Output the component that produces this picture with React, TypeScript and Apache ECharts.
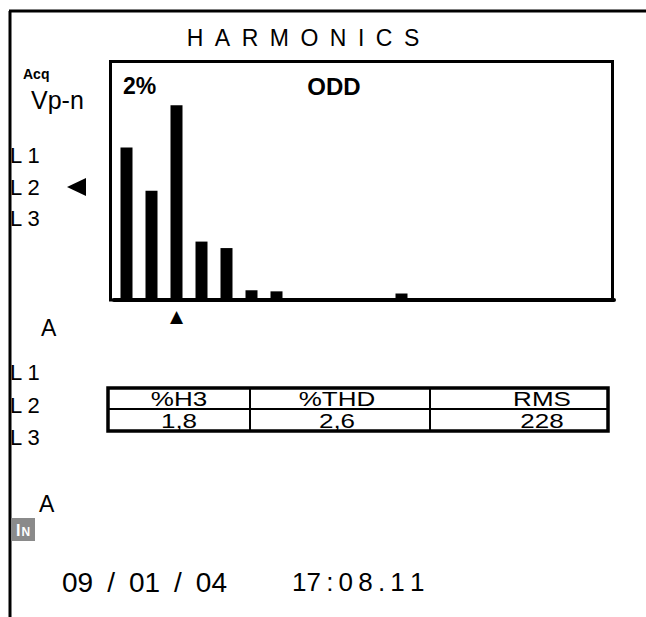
import React, { useEffect, useRef } from 'react';
import * as echarts from 'echarts';

// harmonic bar slots shown on the ODD page (20 slots across the window)
const categories = ['1','2','3','4','5','6','7','8','9','10','11','12','13','14','15','16','17','18','19','20'];
// bar levels in % (full window ≈ 2.2 %)
const barValues = [1.41, 1.01, 1.8, 0.54, 0.48, 0.09, 0.08, null, null, null, null, 0.06, null, null, null, null, null, null, null, null];
const cursorCategory = '3';
const yMax = 2.2;

const tableHeaders = ['%H3', '%THD', 'RMS'];
const tableValues = ['1,8', '2,6', '228'];

const titleText = 'H\u2002A\u2002R\u2002M\u2002O\u2002N\u2002I\u2002C\u2002S';
const scaleText = '2%';
const modeText = 'ODD';
const dateText = '09\u2002/\u200201\u2002/\u200204';
const timeText = '17\u2009:\u20090\u20098\u2009.\u20091\u20091';

const FONT = '"Liberation Sans", Arial, Helvetica, sans-serif';

function txt(x: number, y: number, text: string, size: number, opts: any = {}) {
  return {
    type: 'text',
    x,
    y,
    z: 10,
    scaleX: opts.scaleX || 1,
    style: {
      text,
      fill: '#000',
      fontSize: size,
      fontFamily: FONT,
      fontWeight: opts.weight || 'normal',
      align: opts.align || 'left',
      textAlign: opts.align || 'left',
      verticalAlign: 'middle',
      textVerticalAlign: 'middle',
    },
  };
}

export default function App() {
  const ref = useRef<HTMLDivElement>(null);

  useEffect(() => {
    document.body.style.margin = '0';
    const chart = echarts.init(ref.current!, undefined, { renderer: 'svg' });

    // table geometry
    const tX = [108, 250, 430, 608];
    const tTop = 388, tMid = 409, tBot = 431;
    const colCenters = [179, 337, 542];
    const tableGraphics: any[] = [
      { type: 'rect', z: 10, shape: { x: tX[0], y: tTop, width: tX[3] - tX[0], height: tBot - tTop }, style: { fill: 'none', stroke: '#000', lineWidth: 3.5 } },
      { type: 'line', z: 10, shape: { x1: tX[0], y1: tMid, x2: tX[3], y2: tMid }, style: { stroke: '#000', lineWidth: 2 } },
      { type: 'line', z: 10, shape: { x1: tX[1], y1: tTop, x2: tX[1], y2: tBot }, style: { stroke: '#000', lineWidth: 2 } },
      { type: 'line', z: 10, shape: { x1: tX[2], y1: tTop, x2: tX[2], y2: tBot }, style: { stroke: '#000', lineWidth: 2 } },
    ];
    tableHeaders.forEach((h, i) => tableGraphics.push(txt(colCenters[i], (tTop + tMid) / 2 + 1, h, 20, { align: 'center', scaleX: 1.3 })));
    tableValues.forEach((v, i) => tableGraphics.push(txt(colCenters[i], (tMid + tBot) / 2 + 1, v, 20, { align: 'center', scaleX: 1.3 })));

    const option: any = {
      animation: false,
      grid: { left: 114, right: 32, top: 62, bottom: 317, show: false },
      xAxis: {
        type: 'category',
        data: categories,
        axisLine: { show: true, lineStyle: { color: '#000', width: 4 } },
        axisTick: { show: false },
        axisLabel: {
          interval: 0,
          margin: 7,
          fontSize: 17,
          color: '#000',
          fontFamily: 'DejaVu Sans',
          formatter: (v: string) => (v === cursorCategory ? '▲' : ''),
        },
        splitLine: { show: false },
      },
      yAxis: { type: 'value', min: 0, max: yMax, show: false, splitLine: { show: false } },
      series: [
        {
          type: 'bar',
          data: barValues,
          barWidth: 12,
          itemStyle: { color: '#000' },
        },
      ],
      graphic: [
        // outer frame
        { type: 'line', z: 10, shape: { x1: 9, y1: 11, x2: 646, y2: 11 }, style: { stroke: '#000', lineWidth: 3 } },
        { type: 'line', z: 10, shape: { x1: 10, y1: 11, x2: 10, y2: 617 }, style: { stroke: '#000', lineWidth: 3 } },
        // chart window
        { type: 'rect', z: 10, shape: { x: 110.5, y: 61.5, width: 502, height: 238.5 }, style: { fill: 'none', stroke: '#000', lineWidth: 3 } },
        txt(303, 38, titleText, 23, { align: 'center' }),
        txt(23, 74, 'Acq', 14, { weight: 'bold' }),
        txt(31, 100, 'Vp-n', 25),
        txt(10, 155, 'L 1', 22),
        txt(10, 187, 'L 2', 22),
        txt(10, 218, 'L 3', 22),
        { type: 'polygon', z: 10, shape: { points: [[67, 187], [86, 178], [86, 196]] }, style: { fill: '#000' } },
        txt(123, 86, scaleText, 23, { weight: 'bold' }),
        txt(334, 86, modeText, 24, { weight: 'bold', align: 'center' }),
        txt(41, 328, 'A', 23),
        txt(10, 372, 'L 1', 22),
        txt(10, 405, 'L 2', 22),
        txt(10, 437, 'L 3', 22),
        txt(39, 504, 'A', 23),
        { type: 'rect', z: 10, shape: { x: 11, y: 518, width: 24, height: 23 }, style: { fill: '#8a8a8a' } },
        {
          type: 'text', z: 11, x: 23, y: 530,
          style: {
            text: '{a|I}{b|N}', align: 'center', textAlign: 'center', verticalAlign: 'middle', textVerticalAlign: 'middle',
            rich: {
              a: { fontSize: 16, fontWeight: 'bold', fill: '#fff', color: '#fff', fontFamily: FONT },
              b: { fontSize: 12, fontWeight: 'bold', fill: '#fff', color: '#fff', fontFamily: FONT, padding: [3, 0, 0, 1] },
            },
          },
        },
        txt(62, 582, dateText, 28),
        txt(292, 582, timeText, 26),
        ...tableGraphics,
      ],
    };
    chart.setOption(option);
    return () => chart.dispose();
  }, []);

  return <div ref={ref} style={{ width: 646, height: 617, background: '#fff' }} />;
}
